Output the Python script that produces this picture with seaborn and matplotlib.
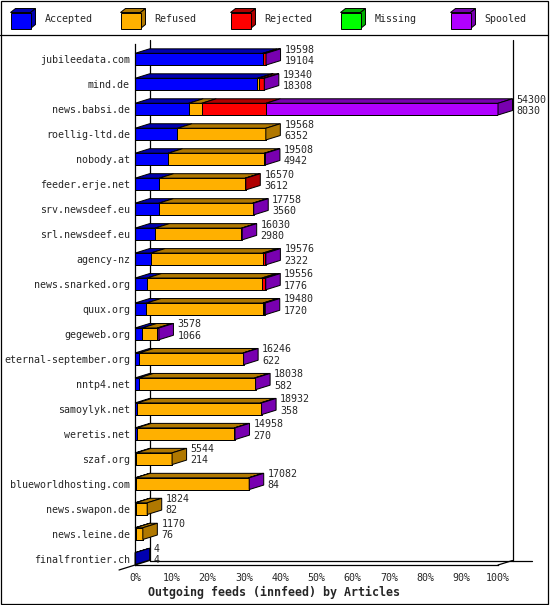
import numpy as np
import pandas as pd
import matplotlib.pyplot as plt
import seaborn as sns
from matplotlib.patches import Polygon, Rectangle

# -------------------------------
# Data
# -------------------------------
sites = ["jubileedata.com", "mind.de", "news.babsi.de", "roellig-ltd.de", "nobody.at",
         "feeder.erje.net", "srv.newsdeef.eu", "srl.newsdeef.eu", "agency-nz",
         "news.snarked.org", "quux.org", "gegeweb.org", "eternal-september.org",
         "nntp4.net", "samoylyk.net", "weretis.net", "szaf.org", "blueworldhosting.com",
         "news.swapon.de", "news.leine.de", "finalfrontier.ch"]
offered = [19598, 19340, 54300, 19568, 19508, 16570, 17758, 16030, 19576, 19556, 19480,
           3578, 16246, 18038, 18932, 14958, 5544, 17082, 1824, 1170, 4]
accepted = [19104, 18308, 8030, 6352, 4942, 3612, 3560, 2980, 2322, 1776, 1720,
            1066, 622, 582, 358, 270, 214, 84, 82, 76, 4]
refused = [0, 200, 1950, 13216, 14400, 12858, 14050, 12950, 16790, 17174, 17427,
           2270, 15524, 17300, 18420, 14600, 5330, 16900, 1742, 1094, 0]
rejected = [440, 750, 9600, 0, 0, 100, 0, 0, 380, 520, 200,
            0, 0, 0, 0, 0, 0, 0, 0, 0, 0]
missing = [0] * 21
spooled = [54, 82, 34720, 0, 166, 0, 148, 100, 84, 86, 133,
           242, 100, 156, 154, 88, 0, 98, 0, 0, 0]

series = ["Accepted", "Refused", "Rejected", "Missing", "Spooled"]
front = ["#0000ff", "#ffb000", "#ff0000", "#00ff00", "#b000ff"]
dark = ["#0000b0", "#b07800", "#b00000", "#00b000", "#7800b0"]

# -------------------------------
# Build table
# -------------------------------
df = pd.DataFrame({"site": sites, "Accepted": accepted, "Refused": refused,
                   "Rejected": rejected, "Missing": missing, "Spooled": spooled})
scale = 100.0 / max(offered)
pct = df[series].to_numpy() * scale
cum = np.cumsum(pct, axis=1)

sns.set_style("white")
plt.rcParams["font.family"] = ["DejaVu Sans Mono"]
FS = 7.2

fig = plt.figure(figsize=(5.5, 6.05), dpi=100)

# background layer: frame and legend (pixel coordinates)
bg = fig.add_axes([0, 0, 1, 1], zorder=0)
bg.set_xlim(0, 550)
bg.set_ylim(605, 0)
bg.axis("off")
bg.add_patch(Rectangle((0.5, 0.5), 547.5, 603.5, fill=False, ec="black", lw=0.9))
bg.plot([0, 548], [34.5, 34.5], color="black", lw=0.9)
for i, name in enumerate(series):
    x = 10.5 + 110 * i
    kw = dict(ec="black", lw=0.7)
    bg.add_patch(Polygon([(x, 12.5), (x + 20, 12.5), (x + 25, 8.5), (x + 5, 8.5)], fc=dark[i], **kw))
    bg.add_patch(Polygon([(x + 20, 12.5), (x + 20, 28.5), (x + 25, 24.5), (x + 25, 8.5)], fc=dark[i], **kw))
    bg.add_patch(Rectangle((x, 12.5), 20, 16, fc=front[i], **kw))
    bg.text(x + 34, 19.5, name, fontsize=FS, va="center", ha="left")

# main plot area: 0% at x=135px, 100% at x=498px
ax = fig.add_axes([135 / 550, 40 / 605, 363 / 550, 521 / 605], zorder=1)
ax.patch.set_alpha(0)

H = 0.47      # bar thickness (rows)
DX = 4.0      # depth in percent
DY = 0.18     # depth in rows

# front faces: overlapping cumulative bars, last segment first
for k in reversed(range(len(series))):
    sns.barplot(x=cum[:, k], y=df["site"], orient="h", color=front[k], saturation=1,
                width=H, edgecolor="black", linewidth=0.72, errorbar=None, ax=ax, zorder=2)

# top and side faces
for r in range(len(sites)):
    yt, yb = r - H / 2, r + H / 2
    left = 0.0
    last = None
    for k in range(len(series)):
        w = pct[r, k]
        if w <= 0:
            continue
        x0, x1 = left, left + w
        ax.add_patch(Polygon([(x0, yt), (x1, yt), (x1 + DX, yt - DY), (x0 + DX, yt - DY)],
                             fc=dark[k], ec="black", lw=0.72, zorder=2, clip_on=False))
        left = x1
        last = k
    ax.add_patch(Polygon([(left, yt), (left, yb), (left + DX, yb - DY), (left + DX, yt - DY)],
                         fc=dark[last], ec="black", lw=0.72, zorder=2, clip_on=False))
    tx = left + DX + 1.1
    ax.text(tx, r - 0.38, str(offered[r]), fontsize=FS, va="center", ha="left", clip_on=False)
    ax.text(tx, r + 0.07, str(accepted[r]), fontsize=FS, va="center", ha="left", clip_on=False)

# axes limits (rows mapped to pixels)
top, bottom = -0.609, 20.256
ax.set_xlim(0, 100)
ax.set_ylim(bottom, top)

# back wall lines
lk = dict(color="black", lw=0.9, zorder=0.5, clip_on=False)
ax.plot([DX, DX], [bottom - DY, top - DY], **lk)
ax.plot([100 + DX, 100 + DX], [bottom - DY, top - DY], **lk)
ax.plot([DX, 109.3], [bottom - DY, bottom - DY], **lk)
ax.plot([100, 100 + DX], [bottom, bottom - DY], **lk)
ax.plot([-4.4, DX], [bottom + 0.2, bottom - DY], **lk)

# spines and ticks
for s in ["top", "right"]:
    ax.spines[s].set_visible(False)
for s in ["left", "bottom"]:
    ax.spines[s].set_color("black")
    ax.spines[s].set_linewidth(0.9)
ax.set_xticks(range(0, 101, 10))
ax.set_xticklabels([f"{t}%" for t in range(0, 101, 10)], fontsize=FS)
ax.set_yticks(range(len(sites)))
ax.set_yticklabels(sites, fontsize=FS)
ax.tick_params(axis="x", direction="out", length=3.6, width=0.9, pad=2, color="black")
ax.tick_params(axis="y", length=0, pad=3.6)
ax.set_xlabel("")
ax.set_ylabel("")

fig.text(274.5 / 550, 1 - 592 / 605, "Outgoing feeds (innfeed) by Articles",
         fontsize=8.4, fontweight="bold", ha="center", va="center")

fig.savefig("out.png", dpi=100)
